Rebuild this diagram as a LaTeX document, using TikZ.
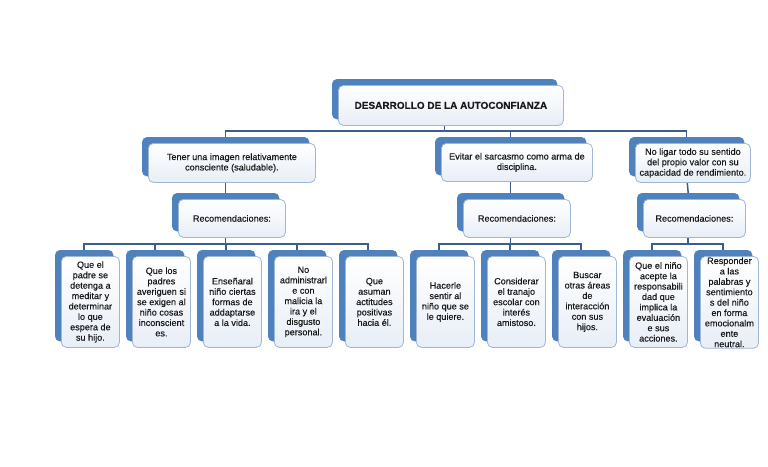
\documentclass[tikz,border=0pt]{standalone}
\usepackage{fontspec}
\setmainfont{Liberation Sans}[FakeBold=0.25]
\usetikzlibrary{backgrounds}
\definecolor{backblue}{RGB}{79,129,189}
\definecolor{edgeblue}{RGB}{160,182,214}
\definecolor{fillblue}{RGB}{232,238,247}
\definecolor{linkblue}{RGB}{60,94,140}
\definecolor{txt}{RGB}{25,25,25}
\tikzset{
  backbox/.style={anchor=north west, fill=backblue, draw=backblue, rounded corners=5pt, inner sep=0pt},
  frontbox/.style={anchor=north west, draw=edgeblue, line width=0.8pt, top color=white, bottom color=fillblue,
    rounded corners=5pt, inner sep=1pt, align=center, text=txt, font=\fontsize{9.1}{10.4}\selectfont},
  link/.style={draw=linkblue, line width=1.5pt}
}
\newcommand{\dbox}[6]{%
  \node[backbox, minimum width=#4pt, minimum height=#5pt] (#1b) at (#2-6,#3-6) {};
  \node[frontbox, minimum width=#4pt, minimum height=#5pt] (#1) at (#2,#3) {#6};
}
\begin{document}
\begin{tikzpicture}[x=1pt,y=-1pt]
\useasboundingbox (0,0) rectangle (768,466);
% top
\dbox{top}{338}{85}{225}{40}{\bfseries\fontsize{10}{12}\selectfont DESARROLLO DE LA AUTOCONFIANZA}
% level 1
\dbox{la}{148}{143}{167}{39}{Tener una imagen relativamente\\consciente (saludable).}
\dbox{lb}{441}{143}{151}{38}{Evitar el sarcasmo como arma de\\disciplina.}
\dbox{lc}{635}{143}{115}{39}{No ligar todo su sentido\\del propio valor con su\\capacidad de rendimiento.}
% recomendaciones
\dbox{ra}{178}{199}{107}{38}{Recomendaciones:}
\dbox{rb}{463}{199}{107}{38}{Recomendaciones:}
\dbox{rc}{643}{199}{102}{38}{Recomendaciones:}
% level 3
\dbox{c0}{61}{256}{58}{91}{Que el\\padre se\\detenga a\\meditar y\\determinar\\lo que\\espera de\\su hijo.}
\dbox{c1}{132}{256}{58}{91}{Que los\\padres\\averiguen si\\se exigen al\\niño cosas\\inconscient\\es.}
\dbox{c2}{203}{256}{58}{91}{Enseñaral\\niño ciertas\\formas de\\addaptarse\\a la vida.}
\dbox{c3}{274}{256}{58}{91}{No\\administrarl\\e con\\malicia la\\ira y el\\disgusto\\personal.}
\dbox{c4}{345}{256}{58}{91}{Que\\asuman\\actitudes\\positivas\\hacia él.}
\dbox{c5}{416}{256}{58}{91}{Hacerle\\sentir al\\niño que se\\le quiere.}
\dbox{c6}{487}{256}{58}{91}{Considerar\\el tranajo\\escolar con\\interés\\amistoso.}
\dbox{c7}{558}{256}{58}{91}{Buscar\\otras áreas\\de\\interacción\\con sus\\hijos.}
\dbox{c8}{629}{256}{58}{91}{Que el niño\\acepte la\\responsabili\\dad que\\implica la\\evaluación\\e sus\\acciones.}
\dbox{c9}{700}{256}{58}{91}{Responder\\a las\\palabras y\\sentimiento\\s del niño\\en forma\\emocionalm\\ente\\neutral.}
\begin{pgfonlayer}{background}
\fill[white] (0,0) rectangle (768,466);
\foreach \c in {la,lb,lc}
  \draw[link] (topb.south) |- ([yshift=6pt]\c b.north) -- (\c b.north);
\draw[link] (lab.south) -- (rab.north);
\draw[link] (lbb.south) -- (rbb.north);
\draw[link] (lcb.south) -- (rcb.north);
\foreach \c in {c0,c1,c2,c3,c4}
  \draw[link] (rab.south) |- ([yshift=6pt]\c b.north) -- (\c b.north);
\foreach \c in {c5,c6,c7}
  \draw[link] (rbb.south) |- ([yshift=6pt]\c b.north) -- (\c b.north);
\foreach \c in {c8,c9}
  \draw[link] (rcb.south) |- ([yshift=6pt]\c b.north) -- (\c b.north);
\end{pgfonlayer}
\end{tikzpicture}
\end{document}
